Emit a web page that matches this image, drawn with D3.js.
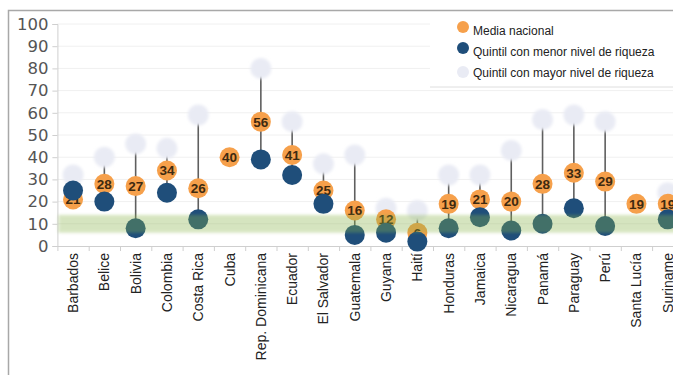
<!DOCTYPE html>
<html>
<head>
<meta charset="utf-8">
<script src="https://cdn.jsdelivr.net/npm/d3@7"></script>
<style>
  html, body { margin: 0; padding: 0; background: #fff; }
  svg { display: block; }
</style>
</head>
<body>
<svg id="chart" width="673" height="375"></svg>
<script>
// Country categories along the horizontal axis
const categories = ["Barbados", "Belice", "Bolivia", "Colombia", "Costa Rica", "Cuba",
  "Rep. Dominicana", "Ecuador", "El Salvador", "Guatemala", "Guyana", "Haití",
  "Honduras", "Jamaica", "Nicaragua", "Panamá", "Paraguay", "Perú", "Santa Lucía", "Suriname"];

// National average (%)
const mediaNacional = [21, 28, 27, 34, 26, 40, 56, 41, 25, 16, 12, 6, 19, 21, 20, 28, 33, 29, 19, 19];
// Poorest wealth quintile (%)
const quintilMenor = [25, 20, 8, 24, 12, null, 39, 32, 19, 5, 6, 2, 8, 13, 7, 10, 17, 9, null, 12];
// Richest wealth quintile (%)
const quintilMayor = [32, 40, 46, 44, 59, null, 80, 56, 37, 41, 17, 16, 32, 32, 43, 57, 59, 56, null, 24];

const yTicks = [0, 10, 20, 30, 40, 50, 60, 70, 80, 90, 100];
// Shaded reference range on the value axis
const rangoReferencia = [6, 14];

const legendItems = ["Media nacional", "Quintil con menor nivel de riqueza", "Quintil con mayor nivel de riqueza"];

const colors = {
  media: "#f6a04b",
  menor: "#1f4e7a",
  mayor: "#e9ebf4",
  band: "rgb(135,178,70)",
  stem: "#5f5f5f"
};

const svg = d3.select("#chart");

const defs = svg.append("defs");
defs.append("filter").attr("id", "soft").attr("x", "-50%").attr("y", "-50%").attr("width", "200%").attr("height", "200%")
  .append("feGaussianBlur").attr("stdDeviation", 1.8);
defs.append("filter").attr("id", "softBand").attr("x", "-5%").attr("y", "-50%").attr("width", "110%").attr("height", "200%")
  .append("feGaussianBlur").attr("stdDeviation", 1.4);

// outer frame
svg.append("rect")
  .attr("x", 8.5).attr("y", 10.5).attr("width", 720).attr("height", 420)
  .attr("fill", "#fff").attr("stroke", "#a8a8a8").attr("stroke-width", 1.5);

const x = d3.scaleBand().domain(categories).range([57.4, 683.4]);
const y = d3.scaleLinear().domain([0, 100]).range([246, 24]);

const rows = categories.map((c, i) => ({
  c, media: mediaNacional[i], menor: quintilMenor[i], mayor: quintilMayor[i]
}));

// horizontal gridlines
svg.append("g")
  .selectAll("line")
  .data(yTicks.filter(t => t > 0))
  .join("line")
  .attr("x1", x.range()[0]).attr("x2", x.range()[1])
  .attr("y1", d => y(d)).attr("y2", d => y(d))
  .attr("stroke", "#f0f0f0").attr("stroke-width", 1);

// y axis
const yAxis = svg.append("g")
  .attr("transform", `translate(${x.range()[0]},0)`)
  .call(d3.axisLeft(y).tickValues(yTicks).tickSize(5).tickPadding(4));
yAxis.select(".domain").attr("stroke", "#cfcfcf");
yAxis.selectAll(".tick line").attr("stroke", "#cfcfcf");
yAxis.selectAll(".tick text")
  .attr("fill", "#555").style("font-family", "'DejaVu Sans', sans-serif").style("font-size", "16.5px");

// x axis with rotated country labels
const xAxis = svg.append("g")
  .attr("transform", `translate(0,${y(0)})`)
  .call(d3.axisBottom(x).tickSize(0));
xAxis.select(".domain").attr("stroke", "#cfcfcf");
xAxis.selectAll(".tick text")
  .attr("transform", "rotate(-90)")
  .attr("text-anchor", "end")
  .attr("x", -7).attr("y", 0).attr("dy", "0.36em")
  .attr("fill", "#222")
  .style("font-family", "'Liberation Sans', Arial, sans-serif").style("font-size", "14px");

// boundary tick marks between categories
svg.append("g")
  .selectAll("line")
  .data(categories)
  .join("line")
  .attr("x1", d => x(d) + 0.5).attr("x2", d => x(d) + 0.5)
  .attr("y1", y(0)).attr("y2", y(0) + 5)
  .attr("stroke", "#cfcfcf");

const cx = d => x(d.c) + x.bandwidth() / 2;
const withRange = rows.filter(d => d.menor != null && d.mayor != null);

// stems from poorest to richest quintile
svg.append("g")
  .selectAll("line")
  .data(withRange)
  .join("line")
  .attr("x1", cx).attr("x2", cx)
  .attr("y1", d => y(d.menor)).attr("y2", d => y(d.mayor))
  .attr("stroke", colors.stem).attr("stroke-width", 1.6);

// richest quintile markers
svg.append("g")
  .attr("filter", "url(#soft)")
  .selectAll("circle")
  .data(withRange)
  .join("circle")
  .attr("cx", cx).attr("cy", d => y(d.mayor)).attr("r", 10.5)
  .attr("fill", colors.mayor);

// national average markers with value labels
const mediaG = svg.append("g")
  .selectAll("g")
  .data(rows)
  .join("g")
  .attr("transform", d => `translate(${cx(d)},${y(d.media)})`);
mediaG.append("circle").attr("r", 10).attr("fill", colors.media);
mediaG.append("text")
  .attr("text-anchor", "middle").attr("dy", "0.36em")
  .attr("fill", "#3e2a10")
  .style("font-family", "'Liberation Sans', Arial, sans-serif").style("font-size", "13.5px").style("font-weight", "bold")
  .text(d => d.media);

// poorest quintile markers
svg.append("g")
  .selectAll("circle")
  .data(rows.filter(d => d.menor != null))
  .join("circle")
  .attr("cx", cx).attr("cy", d => y(d.menor)).attr("r", 10)
  .attr("fill", colors.menor);

// shaded reference range laid over the markers
svg.append("rect")
  .attr("x", x.range()[0] + 1).attr("width", x.range()[1] - x.range()[0])
  .attr("y", y(rangoReferencia[1])).attr("height", y(rangoReferencia[0]) - y(rangoReferencia[1]))
  .attr("fill", colors.band).attr("opacity", 0.34)
  .attr("filter", "url(#softBand)");

// legend
const legend = svg.append("g");
legend.append("rect")
  .attr("x", 430).attr("y", 14).attr("width", 260).attr("height", 73)
  .attr("fill", "#fff");
legend.append("line")
  .attr("x1", 430).attr("x2", 673).attr("y1", 87).attr("y2", 87)
  .attr("stroke", "#dedede");
const legendColors = [colors.media, colors.menor, colors.mayor];
const legendRows = legend.selectAll("g.item")
  .data(legendItems)
  .join("g").attr("class", "item")
  .attr("transform", (d, i) => `translate(463,${31 + i * 21})`);
legendRows.append("circle")
  .attr("cx", 0).attr("cy", (d, i) => i === 2 ? -1 : -4).attr("r", 6)
  .attr("fill", (d, i) => legendColors[i]);
legendRows.append("text")
  .attr("x", 10).attr("dy", "0.36em")
  .attr("fill", "#222")
  .style("font-family", "'Liberation Sans', Arial, sans-serif").style("font-size", "12px")
  .text(d => d);
</script>
</body>
</html>
